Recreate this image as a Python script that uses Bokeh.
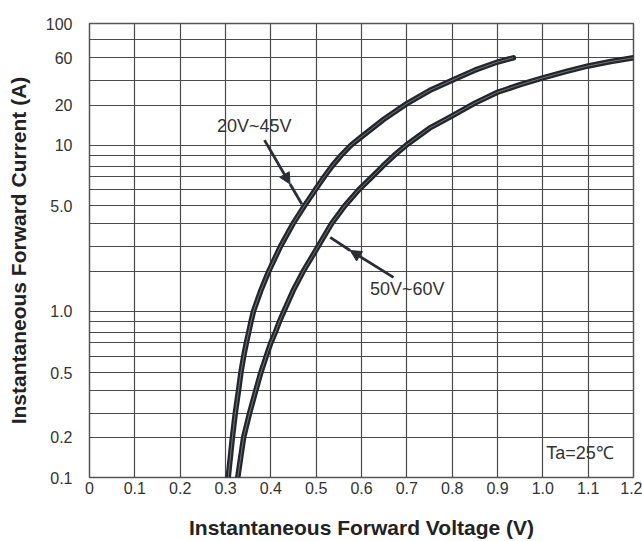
import numpy as np
from bokeh.plotting import figure
from bokeh.models import FixedTicker, Range1d, Label, Arrow, NormalHead, ColumnDataSource
from bokeh.embed import file_html
from bokeh.resources import INLINE

# ---- data ----
v_20_45 = [0.306, 0.3152, 0.3216, 0.3288, 0.334, 0.3402, 0.346, 0.3512, 0.3563, 0.3618,
           0.3777, 0.395, 0.421, 0.449, 0.474, 0.498, 0.518, 0.535, 0.555, 0.577, 0.600,
           0.650, 0.700, 0.750, 0.800, 0.850, 0.900, 0.935]
i_20_45 = [0.1, 0.2, 0.3, 0.4, 0.5, 0.6, 0.7, 0.8, 0.9, 1.0,
           1.43, 2, 3, 4, 5, 6, 7, 8, 9, 10, 11.55,
           15.7, 20.8, 30, 40, 48, 55.6, 60]

v_50_60 = [0.327, 0.340, 0.353, 0.367, 0.378, 0.390, 0.400, 0.410, 0.419, 0.429,
           0.449, 0.471, 0.504, 0.534, 0.563, 0.594, 0.624, 0.647, 0.672, 0.699, 0.750,
           0.800, 0.850, 0.900, 0.950, 1.000, 1.050, 1.100, 1.150, 1.200]
i_50_60 = [0.1, 0.2, 0.3, 0.4, 0.5, 0.6, 0.7, 0.8, 0.9, 1.0,
           1.43, 2, 3, 4, 5, 6, 7, 8, 9, 10, 13.4,
           16.6, 21.1, 28.6, 35.3, 41.8, 46.7, 51.8, 56.1, 60]

x_ticks = [0.0, 0.1, 0.2, 0.3, 0.4, 0.5, 0.6, 0.7, 0.8, 0.9, 1.0, 1.1, 1.2]
x_tick_labels = ["0", "0.1", "0.2", "0.3", "0.4", "0.5", "0.6", "0.7", "0.8", "0.9", "1.0", "1.1", "1.2"]

y_tick_values = [0.1, 0.2, 0.5, 1.0, 5.0, 10, 20, 60, 100]
y_tick_labels = ["0.1", "0.2", "0.5", "1.0", "5.0", "10", "20", "60", "100"]

# grid values of the datasheet's (non-uniform, hand-drawn) current axis
y_grid_values = [0.1, 0.2, 0.3, 0.4, 0.5, 0.6, 0.7, 0.8, 0.9,
                 1, 2, 3, 4, 5, 6, 7, 8, 9,
                 10, 20, 40, 60, 80, 100]
# relative height of each grid value on that axis (0 = bottom, 1 = top)
y_grid_frac = [0.0, 0.0882, 0.1415, 0.1922, 0.2312, 0.2676, 0.2965, 0.3200, 0.3436,
               0.3663, 0.4534, 0.5085, 0.5592, 0.5982, 0.6337, 0.6628, 0.6859, 0.7095,
               0.7322, 0.8204, 0.8750, 0.9244, 0.9641, 1.0]


def yt(v):
    """Map a current value onto the datasheet's axis."""
    return np.interp(np.log10(np.asarray(v, dtype=float)),
                     np.log10(y_grid_values), y_grid_frac)


W, H = 642, 541
p = figure(width=W, height=H, output_backend="svg", toolbar_location=None,
           x_range=Range1d(0, 1.2), y_range=Range1d(0, 1),
           min_border_left=89, min_border_right=9, min_border_top=23,
           min_border_bottom=64)
p.background_fill_color = "white"
p.border_fill_color = "white"
p.outline_line_color = "#555555"
p.outline_line_width = 1.5

# grids
p.xgrid.ticker = FixedTicker(ticks=x_ticks)
p.ygrid.ticker = FixedTicker(ticks=[float(round(float(yt(v)), 6)) for v in y_grid_values])
for g in (p.xgrid, p.ygrid):
    g.grid_line_color = "#4a4a4a"
    g.grid_line_width = 1.2
    g.grid_line_alpha = 1.0

tick_font = "Liberation Sans"

# x axis
xa = p.xaxis[0]
xa.ticker = FixedTicker(ticks=x_ticks)
xa.major_label_overrides = {t: l for t, l in zip(x_ticks, x_tick_labels)}
xa.axis_label = "Instantaneous Forward Voltage (V)"

# y axis
ya = p.yaxis[0]
y_tick_pos = [float(round(float(yt(v)), 6)) for v in y_tick_values]
ya.ticker = FixedTicker(ticks=y_tick_pos)
ya.major_label_overrides = {t: l for t, l in zip(y_tick_pos, y_tick_labels)}
ya.axis_label = "Instantaneous Forward Current (A)"

for ax in (xa, ya):
    ax.axis_line_color = None
    ax.major_tick_line_color = None
    ax.minor_tick_line_color = None
    ax.major_tick_out = 0
    ax.major_tick_in = 0
    ax.major_label_text_font = tick_font
    ax.major_label_text_font_size = "16px"
    ax.major_label_text_color = "#333333"
    ax.axis_label_text_font = "Liberation Sans"
    ax.axis_label_text_font_style = "bold"
    ax.axis_label_text_font_size = "21px"
    ax.axis_label_text_color = "#222222"

xa.major_label_standoff = 4
xa.axis_label_standoff = 19
ya.major_label_standoff = 17
ya.axis_label_standoff = 13

# curves
curve_color = "#23272b"
for xs, ys in ((v_20_45, i_20_45), (v_50_60, i_50_60)):
    src = ColumnDataSource(dict(x=xs, y=yt(ys)))
    p.line("x", "y", source=src, line_width=5.5, line_color=curve_color,
           line_cap="round", line_join="round")
    p.line("x", "y", source=src, line_width=0.8, line_color="white", line_alpha=0.45,
           line_join="round")

# annotations: labels and arrows (positions in data units)
lab_font = "Liberation Sans"
p.add_layout(Label(x=0.3633, y=float(yt(13.8)), text="20V~45V", text_align="center",
                   text_baseline="middle", text_font=lab_font, text_font_size="18px",
                   text_color="#333333"))
p.add_layout(Label(x=0.701, y=float(yt(1.48)), text="50V~60V", text_align="center",
                   text_baseline="middle", text_font=lab_font, text_font_size="18px",
                   text_color="#333333"))
p.add_layout(Label(x=1.0076, y=float(yt(0.153)), text="Ta=25\u2103", text_align="left",
                   text_baseline="middle", text_font=lab_font, text_font_size="18px",
                   text_color="#333333"))

arrow_color = "#2a2e33"
# (tail, head, tip) for each arrow
arrows = [((0.386, 10.9), (0.4423, 6.42), (0.4686, 5.1)),
          ((0.6706, 1.81), (0.575, 2.82), (0.531, 3.37))]
for (tx, ty), (hx, hy), (px, py) in arrows:
    p.add_layout(Arrow(end=NormalHead(size=11, fill_color=arrow_color, line_color=arrow_color),
                       x_start=tx, y_start=float(yt(ty)), x_end=hx, y_end=float(yt(hy)),
                       line_color=arrow_color, line_width=2.8))
    p.segment(x0=[hx], y0=[float(yt(hy))], x1=[px], y1=[float(yt(py))],
              line_color=arrow_color, line_width=2.8)

open("out.html", "w").write(file_html(p, INLINE))
